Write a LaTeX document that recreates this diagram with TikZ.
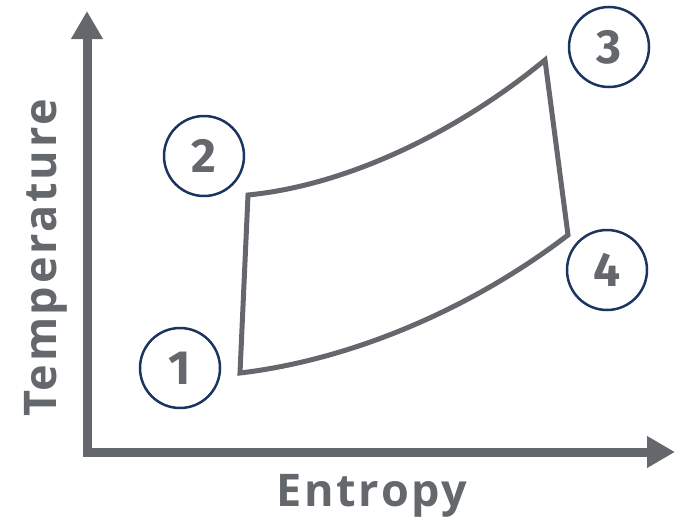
\documentclass[tikz,border=0pt]{standalone}
\usepackage{fontspec}
\setmainfont{Fira Sans}
\newfontfamily\labelfont[LetterSpace=6]{Open Sans}
\usetikzlibrary{arrows.meta}
\definecolor{axisgray}{HTML}{64676C}
\definecolor{navy}{HTML}{1B3460}
\tikzset{
  axis/.style={draw=axisgray, line width=9pt, line join=miter,
    arrows={Triangle[length=28pt,width=30pt]-Triangle[length=28pt,width=30pt]}},
  cycle/.style={draw=axisgray, line width=5pt, line join=miter},
  statebox/.style={circle, draw=navy, line width=2.5pt, minimum size=80pt, inner sep=0pt,
    text=axisgray, font=\fontsize{48}{48}\selectfont\bfseries},
  axlabel/.style={text=axisgray, font=\labelfont\fontsize{45}{45}\selectfont\bfseries}
}
\begin{document}
\begin{tikzpicture}[x=1pt,y=-1pt]
\useasboundingbox (0,0) rectangle (682,525);
\coordinate (ytip) at (87,11);
\coordinate (corner) at (87,452);
\coordinate (xtip) at (675,452);
\draw[axis] (ytip) -- (corner) -- (xtip);
\coordinate (p1) at (240,373);
\coordinate (p2) at (248,195);
\coordinate (p3) at (545,60);
\coordinate (p4) at (568,235);
\draw[cycle] (p1) -- (p2) .. controls (350,185) and (460,130) .. (p3) -- (p4)
  .. controls (470,310) and (350,360) .. cycle;
\node[statebox] (s1) at (180,368) {1};
\node[statebox] (s2) at (204,156) {2};
\node[statebox] (s3) at (609,47) {3};
\node[statebox] (s4) at (607,270) {4};
\node[axlabel] (ylab) at (46,258) [rotate=90] {Temperature};
\node[axlabel] (xlab) at (372,496) {Entropy};
\end{tikzpicture}
\end{document}
